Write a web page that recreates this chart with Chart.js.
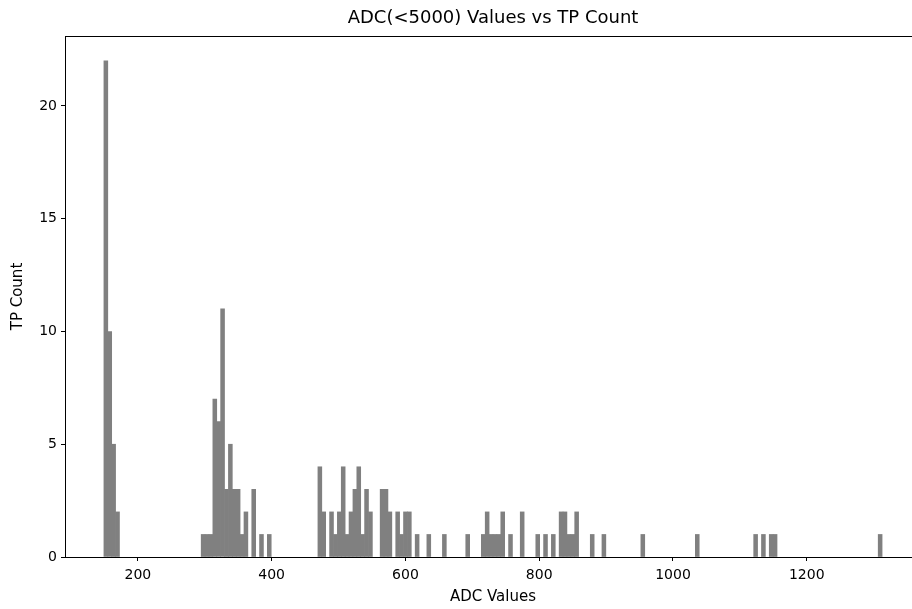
<!DOCTYPE html>
<html>
<head>
<meta charset="utf-8">
<script src="https://cdn.jsdelivr.net/npm/chart.js@4.4.1/dist/chart.umd.min.js"></script>
<style>
  html, body { margin: 0; padding: 0; background: #fff; overflow: hidden; }
  #wrap { width: 912px; height: 609px; overflow: hidden; }
</style>
</head>
<body>
<div id="wrap"><canvas id="myChart" width="930" height="609"></canvas></div>
<script>
// histogram bins (ADC values)
const binStart = 149.2;
const binWidth = 5.817;

// TP count per bin, 200 bins
const tpCounts = [
    22, 10, 5, 2, 0, 0, 0, 0, 0, 0, 0, 0, 0, 0, 0, 0, 0, 0, 0, 0,
    0, 0, 0, 0, 0, 1, 1, 1, 7, 6, 11, 3, 5, 3, 3, 1, 2, 0, 3, 0,
    1, 0, 1, 0, 0, 0, 0, 0, 0, 0, 0, 0, 0, 0, 0, 4, 2, 0, 2, 1,
    2, 4, 1, 2, 3, 4, 1, 3, 2, 0, 0, 3, 3, 2, 0, 2, 1, 2, 2, 0,
    1, 0, 0, 1, 0, 0, 0, 1, 0, 0, 0, 0, 0, 1, 0, 0, 0, 1, 2, 1,
    1, 1, 2, 0, 1, 0, 0, 2, 0, 0, 0, 1, 0, 1, 0, 1, 0, 2, 2, 1,
    1, 2, 0, 0, 0, 1, 0, 0, 1, 0, 0, 0, 0, 0, 0, 0, 0, 0, 1, 0,
    0, 0, 0, 0, 0, 0, 0, 0, 0, 0, 0, 0, 1, 0, 0, 0, 0, 0, 0, 0,
    0, 0, 0, 0, 0, 0, 0, 1, 0, 1, 0, 1, 1, 0, 0, 0, 0, 0, 0, 0,
    0, 0, 0, 0, 0, 0, 0, 0, 0, 0, 0, 0, 0, 0, 0, 0, 0, 0, 0, 1,
];

const xTicks = [200, 400, 600, 800, 1000, 1200];
const yTicks = [0, 5, 10, 15, 20];

const binEnd = binStart + binWidth * tpCounts.length;
const xMargin = (binEnd - binStart) * 0.05;

// empty bins are left out (null) so nothing is drawn on the baseline
const points = tpCounts.map((c, i) => ({ x: binStart + (i + 0.5) * binWidth, y: c || null }));

// matplotlib style box round the plot area
const frame = {
    id: "frame",
    afterDatasetsDraw(chart) {
        const { ctx, chartArea: a } = chart;
        ctx.save();
        ctx.strokeStyle = "#000";
        ctx.lineWidth = 1;
        ctx.strokeRect(a.left + 0.5, a.top + 0.5, a.right - a.left, a.bottom - a.top);
        ctx.restore();
    },
};

Chart.defaults.font.family = "'DejaVu Sans', sans-serif";
Chart.defaults.color = "#000";

const ctx = document.getElementById("myChart").getContext("2d");
new Chart(ctx, {
    type: "bar",
    data: {
        datasets: [
            {
                label: "TP Count",
                data: points,
                backgroundColor: "#808080",
                borderWidth: 0,
                barPercentage: 1,
                categoryPercentage: 1,
            },
        ],
    },
    options: {
        responsive: false,
        animation: false,
        devicePixelRatio: 1,
        layout: { padding: { left: 0, right: 9, top: 0, bottom: 0 } },
        plugins: {
            legend: { display: false },
            tooltip: { enabled: false },
            title: {
                display: true,
                fullSize: false, // centre over the plot area, like matplotlib
                text: "ADC(<5000) Values vs TP Count",
                font: { size: 18, weight: "normal" },
                padding: { top: 8, bottom: 6.4 },
            },
        },
        scales: {
            x: {
                type: "linear",
                offset: false,
                min: binStart - xMargin,
                max: binEnd + xMargin,
                afterBuildTicks: (scale) => {
                    scale.ticks = xTicks.map((v) => ({ value: v }));
                },
                afterFit: (scale) => {
                    scale.height = 52;
                },
                grid: { offset: false, drawOnChartArea: false, drawTicks: true, tickLength: 4, color: "#000" },
                border: { display: true, color: "#000" },
                ticks: {
                    font: { size: 14 },
                    padding: 6,
                    maxRotation: 0,
                    callback: (v) => String(v),
                },
                title: {
                    display: true,
                    text: "ADC Values",
                    font: { size: 15 },
                    padding: { top: 0, bottom: 3 },
                },
            },
            y: {
                min: 0,
                max: 23.1,
                afterBuildTicks: (scale) => {
                    scale.ticks = yTicks.map((v) => ({ value: v }));
                },
                afterFit: (scale) => {
                    scale.width = 65;
                },
                grid: { drawOnChartArea: false, drawTicks: true, tickLength: 4, color: "#000" },
                border: { display: true, color: "#000" },
                ticks: { font: { size: 14 }, padding: 4, callback: (v) => String(v) },
                title: {
                    display: true,
                    text: "TP Count",
                    font: { size: 15 },
                    padding: { top: 9, bottom: 0 },
                },
            },
        },
    },
    plugins: [frame],
});
</script>
</body>
</html>
